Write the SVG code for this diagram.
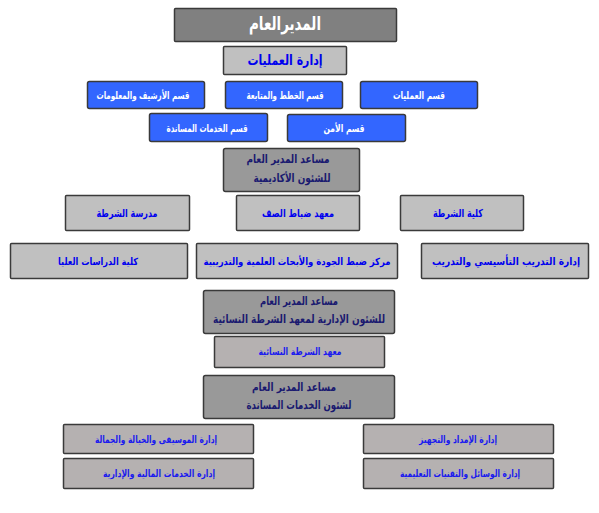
<svg xmlns="http://www.w3.org/2000/svg" width="599" height="513" viewBox="0 0 599 513">
<style>
text{font-family:"DejaVu Sans Condensed","DejaVu Sans",sans-serif;font-weight:bold;text-anchor:middle;dominant-baseline:central;direction:rtl}
.n rect{stroke:#3a3a3a;stroke-width:1.5}
.top rect{fill:#808080}
.top text{fill:#fff;font-size:19px}
.g rect{fill:#c0c0c0}
.g text{fill:#0000ee;font-size:11px}
.b rect{fill:#3366ff}
.b text{fill:#fff;font-size:10.5px}
.a rect{fill:#999999}
.a text{fill:#1a1a70;font-size:11.5px}
.w rect{fill:#b5b1b1}
.w text{fill:#1a1aee;font-size:10px}
</style>
<rect x="0" y="0" width="599" height="513" fill="#fff"/>
<g id="connectors"></g>
<g id="n_gm" class="n top"><rect x="174.5" y="8.5" width="222" height="33" rx="1"/><text x="285" y="23" textLength="72" lengthAdjust="spacingAndGlyphs">المديرالعام</text></g>
<g id="n_ops" class="n g"><rect x="223.5" y="46.5" width="123" height="28" rx="1"/><text x="285" y="60" style="font-size:14px" textLength="75" lengthAdjust="spacingAndGlyphs">إدارة العمليات</text></g>
<g id="n_arch" class="n b"><rect x="87.5" y="81.5" width="117" height="27" rx="2"/><text x="143" y="95" textLength="93" lengthAdjust="spacingAndGlyphs">قسم الأرشيف والمعلومات</text></g>
<g id="n_plan" class="n b"><rect x="225.5" y="81.5" width="117" height="27" rx="2"/><text x="285" y="95" textLength="77" lengthAdjust="spacingAndGlyphs">قسم الخطط والمتابعة</text></g>
<g id="n_opsd" class="n b"><rect x="360.5" y="81.5" width="117" height="27" rx="2"/><text x="419" y="95" textLength="52" lengthAdjust="spacingAndGlyphs">قسم العمليات</text></g>
<g id="n_supp" class="n b"><rect x="149.5" y="113.5" width="118" height="28" rx="2"/><text x="207" y="128" textLength="81" lengthAdjust="spacingAndGlyphs">قسم الخدمات المساندة</text></g>
<g id="n_sec" class="n b"><rect x="287.5" y="114.5" width="118" height="27" rx="2"/><text x="344" y="128" textLength="41" lengthAdjust="spacingAndGlyphs">قسم الأمن</text></g>
<g id="n_acad" class="n a"><rect x="223.5" y="148.5" width="136" height="43" rx="2"/><text x="288" y="159" textLength="83" lengthAdjust="spacingAndGlyphs">مساعد المدير العام</text><text x="292" y="178" textLength="77" lengthAdjust="spacingAndGlyphs">للشئون الأكاديمية</text></g>
<g id="n_school" class="n g"><rect x="65.5" y="195.5" width="124" height="35" rx="1"/><text x="127" y="213" textLength="61" lengthAdjust="spacingAndGlyphs">مدرسة الشرطة</text></g>
<g id="n_nco" class="n g"><rect x="236.5" y="195.5" width="123" height="35" rx="1"/><text x="298" y="213" textLength="72" lengthAdjust="spacingAndGlyphs">معهد ضباط الصف</text></g>
<g id="n_college" class="n g"><rect x="400.5" y="195.5" width="123" height="35" rx="1"/><text x="458" y="213" textLength="50" lengthAdjust="spacingAndGlyphs">كلية الشرطة</text></g>
<g id="n_grad" class="n g"><rect x="10.5" y="243.5" width="177" height="35" rx="1"/><text x="98" y="261" style="font-size:10px" textLength="80" lengthAdjust="spacingAndGlyphs">كلية الدراسات العليا</text></g>
<g id="n_quality" class="n g"><rect x="196.5" y="243.5" width="201" height="35" rx="1"/><text x="297" y="261" style="font-size:10px" textLength="187" lengthAdjust="spacingAndGlyphs">مركز ضبط الجودة والأبحاث العلمية والتدريبية</text></g>
<g id="n_train" class="n g"><rect x="421.5" y="243.5" width="167" height="35" rx="1"/><text x="506" y="261" style="font-size:10.5px" textLength="148" lengthAdjust="spacingAndGlyphs">إدارة التدريب التأسيسي والتدريب</text></g>
<g id="n_adm" class="n a"><rect x="203.5" y="290.5" width="191" height="43" rx="2"/><text x="299" y="301" textLength="78" lengthAdjust="spacingAndGlyphs">مساعد المدير العام</text><text x="299" y="319" textLength="172" lengthAdjust="spacingAndGlyphs">للشئون الإدارية لمعهد الشرطة النسائية</text></g>
<g id="n_women" class="n w"><rect x="214.5" y="336.5" width="170" height="31" rx="1"/><text x="300" y="351" textLength="83" lengthAdjust="spacingAndGlyphs">معهد الشرطة النسائية</text></g>
<g id="n_svc" class="n a"><rect x="203.5" y="375.5" width="191" height="43" rx="2"/><text x="294" y="387" textLength="84" lengthAdjust="spacingAndGlyphs">مساعد المدير العام</text><text x="299" y="405" textLength="105" lengthAdjust="spacingAndGlyphs">لشئون الخدمات المساندة</text></g>
<g id="n_music" class="n w"><rect x="63.5" y="424.5" width="190" height="29" rx="1"/><text x="156" y="439" textLength="122" lengthAdjust="spacingAndGlyphs">إدارة الموسيقى والخيالة والجمالة</text></g>
<g id="n_supply" class="n w"><rect x="363.5" y="424.5" width="190" height="29" rx="1"/><text x="458" y="439" textLength="78" lengthAdjust="spacingAndGlyphs">إدارة الإمداد والتجهيز</text></g>
<g id="n_fin" class="n w"><rect x="63.5" y="458.5" width="190" height="30" rx="1"/><text x="159" y="473" textLength="112" lengthAdjust="spacingAndGlyphs">إدارة الخدمات المالية والإدارية</text></g>
<g id="n_media" class="n w"><rect x="363.5" y="458.5" width="190" height="30" rx="1"/><text x="460" y="473" textLength="120" lengthAdjust="spacingAndGlyphs">إدارة الوسائل والتقنيات التعليمية</text></g>
</svg>
